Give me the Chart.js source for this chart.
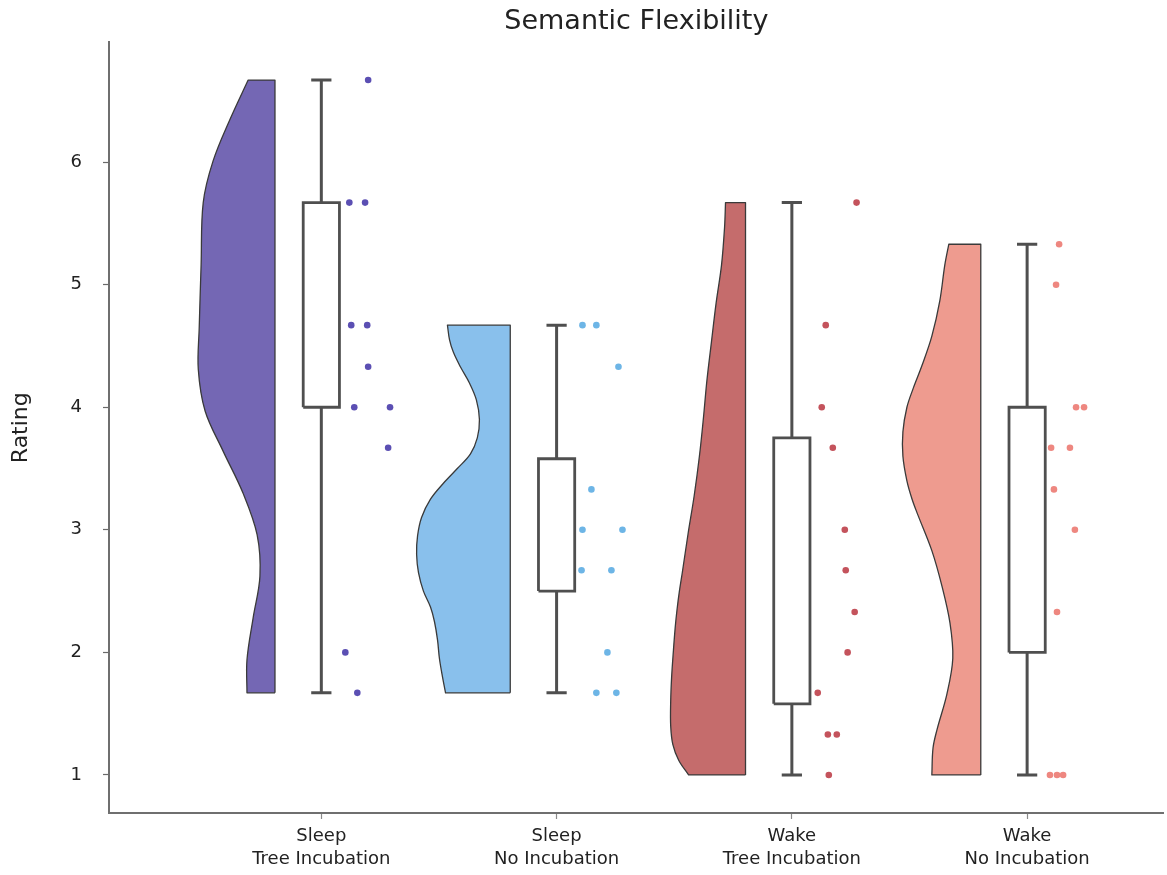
<!DOCTYPE html>
<html>
<head>
<meta charset="utf-8">
<script src="https://cdn.jsdelivr.net/npm/chart.js@4.4.1/dist/chart.umd.min.js"></script>
<style>
  html, body { margin: 0; padding: 0; background: #ffffff; }
  #wrap { width: 1167px; height: 875px; }
</style>
</head>
<body>
<div id="wrap"><canvas id="chart" width="1167" height="875"></canvas></div>
<script>
// ---- data ----
const groupLabels = [
  ['Sleep', 'Tree Incubation'],
  ['Sleep', 'No Incubation'],
  ['Wake', 'Tree Incubation'],
  ['Wake', 'No Incubation']
];
const yTicks = [1, 2, 3, 4, 5, 6];

// individual ratings (rain) and their horizontal jitter
const sleepTreeRatings   = [6.67, 5.67, 5.67, 4.67, 4.67, 4.33, 4.0, 4.0, 3.67, 2.0, 1.67];
const sleepTreeJitter    = [0.199, 0.119, 0.186, 0.127, 0.195, 0.199, 0.140, 0.292, 0.284, 0.102, 0.153];
const sleepNoRatings     = [4.67, 4.67, 4.33, 3.33, 3.0, 3.0, 2.67, 2.67, 2.0, 1.67, 1.67];
const sleepNoJitter      = [0.110, 0.169, 0.263, 0.148, 0.110, 0.280, 0.106, 0.233, 0.216, 0.169, 0.254];
const wakeTreeRatings    = [5.67, 4.67, 4.0, 3.67, 3.0, 2.67, 2.33, 2.0, 1.67, 1.33, 1.33, 1.0];
const wakeTreeJitter     = [0.275, 0.144, 0.127, 0.174, 0.225, 0.229, 0.267, 0.237, 0.110, 0.153, 0.191, 0.157];
const wakeNoRatings      = [5.33, 5.0, 4.0, 4.0, 3.67, 3.67, 3.33, 3.0, 2.33, 1.0, 1.0, 1.0];
const wakeNoJitter       = [0.136, 0.123, 0.208, 0.242, 0.102, 0.182, 0.114, 0.203, 0.127, 0.097, 0.127, 0.153];

// box statistics per group
const boxLow    = [1.67, 1.67, 1.0, 1.0];
const boxQ1     = [4.0, 2.5, 1.58, 2.0];
const boxMedian = [4.67, 2.83, 2.5, 3.5];
const boxQ3     = [5.67, 3.58, 3.75, 4.0];
const boxHigh   = [6.67, 4.67, 5.67, 5.33];

// half-violin density profiles: rating levels and cloud half-widths
const sleepTreeLevels  = [1.67, 1.94, 2.28, 2.62, 2.96, 3.30, 3.64, 3.97, 4.31, 4.65, 5.16, 5.67, 6.01, 6.35, 6.67];
const sleepTreeDensity = [0.119, 0.119, 0.093, 0.064, 0.076, 0.136, 0.220, 0.297, 0.326, 0.322, 0.314, 0.305, 0.263, 0.191, 0.114];
const sleepNoLevels    = [1.67, 1.80, 1.95, 2.10, 2.25, 2.37, 2.50, 2.65, 2.80, 2.95, 3.10, 3.25, 3.38, 3.50, 3.62, 3.75, 3.90, 4.06, 4.20, 4.33, 4.45, 4.55, 4.67];
const sleepNoDensity   = [0.275, 0.288, 0.301, 0.309, 0.322, 0.339, 0.369, 0.390, 0.398, 0.394, 0.377, 0.339, 0.284, 0.225, 0.169, 0.140, 0.131, 0.144, 0.174, 0.212, 0.242, 0.258, 0.267];
const wakeTreeLevels   = [1.0, 1.12, 1.25, 1.4, 1.6, 1.8, 2.0, 2.2, 2.35, 2.50, 2.66, 2.97, 3.28, 3.60, 3.91, 4.22, 4.53, 4.85, 5.16, 5.47, 5.67];
const wakeTreeDensity  = [0.242, 0.284, 0.309, 0.318, 0.318, 0.314, 0.307, 0.299, 0.291, 0.281, 0.268, 0.244, 0.218, 0.196, 0.179, 0.164, 0.145, 0.125, 0.102, 0.089, 0.085];
const wakeNoLevels     = [1.0, 1.22, 1.37, 1.66, 1.95, 2.24, 2.54, 2.83, 3.12, 3.25, 3.4, 3.6, 3.8, 4.0, 4.15, 4.34, 4.58, 4.87, 5.16, 5.33];
const wakeNoDensity    = [0.208, 0.203, 0.186, 0.144, 0.119, 0.131, 0.165, 0.208, 0.267, 0.292, 0.314, 0.331, 0.331, 0.314, 0.288, 0.250, 0.208, 0.174, 0.153, 0.136];

// ---- styling ----
const cloudFill  = ['#7467b4', '#89c0ec', '#c56c6c', '#ee9b8f'];
const rainColor  = ['#5b4fb3', '#6db5e6', '#c4535c', '#ee8780'];
const edgeColor  = '#3a3a3a';
const boxColor   = '#4f4f4f';
const cloudOffset = 0.197;   // flat side of each half violin, left of the category
const boxHalf     = 0.077;
const capHalf     = 0.043;
const fontFamily  = '"DejaVu Sans", "Liberation Sans", sans-serif';

const groups = [
  { ratings: sleepTreeRatings, jitter: sleepTreeJitter, levels: sleepTreeLevels, density: sleepTreeDensity },
  { ratings: sleepNoRatings,   jitter: sleepNoJitter,   levels: sleepNoLevels,   density: sleepNoDensity },
  { ratings: wakeTreeRatings,  jitter: wakeTreeJitter,  levels: wakeTreeLevels,  density: wakeTreeDensity },
  { ratings: wakeNoRatings,    jitter: wakeNoJitter,    levels: wakeNoLevels,    density: wakeNoDensity }
];

// closed outline of a half violin; corners are doubled so the spline keeps them sharp
function cloudOutline(i, levels, density) {
  const edge = i - cloudOffset;
  const n = levels.length;
  const pts = [];
  pts.push({ x: edge, y: levels[0] });
  pts.push({ x: edge - density[0], y: levels[0] });
  for (let k = 0; k < n; k++) pts.push({ x: edge - density[k], y: levels[k] });
  pts.push({ x: edge - density[n - 1], y: levels[n - 1] });
  pts.push({ x: edge, y: levels[n - 1] });
  pts.push({ x: edge, y: levels[n - 1] });
  pts.push({ x: edge, y: levels[0] });
  pts.push({ x: edge, y: levels[0] });
  return pts;
}

function lineSet(data, opts) {
  return Object.assign({
    data,
    showLine: true,
    pointRadius: 0,
    pointHoverRadius: 0,
    fill: false,
    tension: 0,
    borderColor: boxColor,
    borderWidth: 2.8,
    borderCapStyle: 'butt',
    borderJoinStyle: 'miter'
  }, opts);
}

const datasets = [];
groups.forEach((g, i) => {
  // rain
  datasets.push({
    data: g.ratings.map((r, k) => ({ x: i + g.jitter[k], y: r })),
    showLine: false,
    pointRadius: 3.3,
    pointBorderWidth: 0,
    pointBackgroundColor: rainColor[i],
    pointHoverRadius: 3.3
  });
  // box
  datasets.push(lineSet([
    { x: i - boxHalf, y: boxQ1[i] }, { x: i + boxHalf, y: boxQ1[i] },
    { x: i + boxHalf, y: boxQ3[i] }, { x: i - boxHalf, y: boxQ3[i] },
    { x: i - boxHalf, y: boxQ1[i] }
  ], { fill: 'shape', backgroundColor: '#ffffff' }));
  datasets.push(lineSet([{ x: i - boxHalf, y: boxMedian[i] }, { x: i + boxHalf, y: boxMedian[i] }], {}));
  // whiskers and caps
  datasets.push(lineSet([{ x: i, y: boxQ3[i] }, { x: i, y: boxHigh[i] }], { borderWidth: 3 }));
  datasets.push(lineSet([{ x: i, y: boxQ1[i] }, { x: i, y: boxLow[i] }], { borderWidth: 3 }));
  datasets.push(lineSet([{ x: i - capHalf, y: boxHigh[i] }, { x: i + capHalf, y: boxHigh[i] }], { borderWidth: 3 }));
  datasets.push(lineSet([{ x: i - capHalf, y: boxLow[i] }, { x: i + capHalf, y: boxLow[i] }], { borderWidth: 3 }));
  // cloud
  datasets.push(lineSet(cloudOutline(i, g.levels, g.density), {
    fill: 'shape',
    backgroundColor: cloudFill[i],
    borderColor: edgeColor,
    borderWidth: 1.3,
    tension: 0.35,
    borderJoinStyle: 'round'
  }));
});

const axisColor = '#6f6f6f';
const textColor = '#222222';

new Chart(document.getElementById('chart'), {
  type: 'scatter',
  data: { datasets },
  options: {
    responsive: false,
    animation: false,
    devicePixelRatio: 1,
    layout: { padding: { left: 0, right: 0, top: 0, bottom: 0 } },
    plugins: {
      legend: { display: false },
      tooltip: { enabled: false },
      title: {
        display: true,
        fullSize: false,
        text: 'Semantic Flexibility',
        color: textColor,
        font: { family: fontFamily, size: 27, weight: 'normal', lineHeight: 1.2 },
        padding: { top: 6, bottom: 4 }
      }
    },
    scales: {
      x: {
        type: 'linear',
        min: -0.9025,
        max: 3.5805,
        afterBuildTicks: (scale) => { scale.ticks = groupLabels.map((_, i) => ({ value: i })); },
        afterFit: (scale) => { scale.height = 62; },
        ticks: {
          autoSkip: false,
          maxRotation: 0,
          padding: 5,
          color: textColor,
          font: { family: fontFamily, size: 18, lineHeight: 1.32 },
          callback: (value, index) => groupLabels[index]
        },
        grid: { drawOnChartArea: false, drawTicks: true, tickLength: 6, tickColor: '#8a8a8a', tickWidth: 1.2 },
        border: { display: true, color: axisColor, width: 2 }
      },
      y: {
        type: 'linear',
        min: 0.6895,
        max: 6.977,
        afterBuildTicks: (scale) => { scale.ticks = yTicks.map(v => ({ value: v })); },
        afterFit: (scale) => { scale.width = 109; },
        ticks: {
          padding: 21,
          color: textColor,
          font: { family: fontFamily, size: 18 },
          callback: (value) => String(value)
        },
        title: {
          display: true,
          text: 'Rating',
          color: textColor,
          font: { family: fontFamily, size: 22 },
          padding: { top: 8, bottom: 0 }
        },
        grid: { drawOnChartArea: false, drawTicks: true, tickLength: 6, tickColor: '#6a6a6a', tickWidth: 1.2 },
        border: { display: true, color: axisColor, width: 2 }
      }
    }
  }
});
</script>
</body>
</html>
